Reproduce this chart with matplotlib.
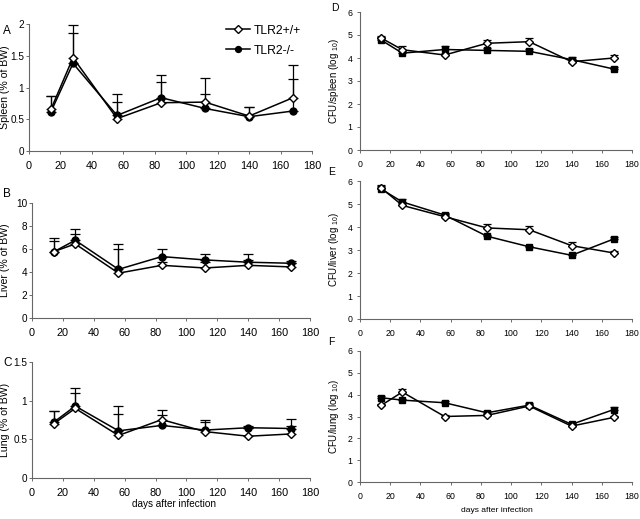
import matplotlib
matplotlib.use("Agg")
import matplotlib.pyplot as plt
import numpy as np

plt.rcParams['font.family'] = ['Liberation Sans', 'DejaVu Sans']
plt.rcParams['mathtext.fontset'] = 'custom'
plt.rcParams['mathtext.rm'] = 'Liberation Sans'
plt.rcParams['mathtext.it'] = 'Liberation Sans:italic'

days = [14, 28, 56, 84, 112, 140, 168]

# Panel A: spleen (% of BW)
spleen_wt = [0.66, 1.47, 0.51, 0.76, 0.77, 0.55, 0.84]
spleen_wt_err = [0.21, 0.52, 0.39, 0.44, 0.38, 0.14, 0.51]
spleen_ko = [0.62, 1.38, 0.56, 0.84, 0.67, 0.54, 0.63]
spleen_ko_err = [0.25, 0.48, 0.21, 0.25, 0.23, 0.15, 0.50]

# Panel B: liver (% of BW)
liver_wt = [5.77, 6.44, 3.90, 4.58, 4.35, 4.58, 4.44]
liver_wt_err = [0.93, 0.86, 2.07, 0.32, 0.5, 0.5, 0.3]
liver_ko = [5.75, 6.76, 4.23, 5.34, 5.05, 4.85, 4.76]
liver_ko_err = [1.24, 0.96, 2.17, 0.69, 0.55, 0.75, 0.24]

# Panel C: lung (% of BW)
lung_wt = [0.70, 0.90, 0.55, 0.755, 0.60, 0.54, 0.57]
lung_wt_err = [0.17, 0.20, 0.28, 0.065, 0.13, 0.11, 0.10]
lung_ko = [0.72, 0.93, 0.61, 0.68, 0.62, 0.65, 0.64]
lung_ko_err = [0.15, 0.23, 0.32, 0.20, 0.13, 0.02, 0.12]

# Panel D: CFU/spleen (log10)
cfu_spleen_wt = [4.87, 4.36, 4.13, 4.64, 4.71, 3.84, 4.00]
cfu_spleen_wt_err = [0.10, 0.16, 0.10, 0.14, 0.14, 0.10, 0.12]
cfu_spleen_ko = [4.78, 4.21, 4.37, 4.33, 4.29, 3.93, 3.52]
cfu_spleen_ko_err = [0.12, 0.10, 0.15, 0.10, 0.10, 0.12, 0.08]

# Panel E: CFU/liver (log10)
cfu_liver_wt = [5.70, 4.94, 4.45, 3.96, 3.88, 3.19, 2.87]
cfu_liver_wt_err = [0.12, 0.10, 0.10, 0.16, 0.17, 0.14, 0.08]
cfu_liver_ko = [5.65, 5.09, 4.52, 3.60, 3.14, 2.77, 3.48]
cfu_liver_ko_err = [0.15, 0.14, 0.10, 0.06, 0.05, 0.05, 0.10]

# Panel F: CFU/lung (log10)
cfu_lung_wt = [3.51, 4.12, 3.00, 3.05, 3.48, 2.56, 2.96]
cfu_lung_wt_err = [0.08, 0.12, 0.06, 0.08, 0.10, 0.08, 0.06]
cfu_lung_ko = [3.86, 3.75, 3.63, 3.17, 3.52, 2.64, 3.32]
cfu_lung_ko_err = [0.09, 0.05, 0.10, 0.10, 0.10, 0.08, 0.10]

series_labels = ["TLR2+/+", "TLR2-/-"]

fig = plt.figure(figsize=(6.4, 5.19), dpi=100)
fig.patch.set_facecolor("white")
W, H = 640.0, 519.0

def mkax(x0, x1, ytop, ybot):
    return fig.add_axes([x0 / W, 1 - ybot / H, (x1 - x0) / W, (ybot - ytop) / H])

panels = [
    (29, 312, 24, 151, spleen_wt, spleen_wt_err, spleen_ko, spleen_ko_err, (0, 2),
     [0, 0.5, 1, 1.5, 2], ["0", "0.5", "1", "1.5", "2"], "Spleen (% of BW)", "A", (3, 25)),
    (32, 310, 203, 318, liver_wt, liver_wt_err, liver_ko, liver_ko_err, (0, 10),
     [0, 2, 4, 6, 8, 10], ["0", "2", "4", "6", "8", "10"], "Liver (% of BW)", "B", (3, 188)),
    (32, 310, 362, 478, lung_wt, lung_wt_err, lung_ko, lung_ko_err, (0, 1.5),
     [0, 0.5, 1, 1.5], ["0", "0.5", "1", "1.5"], "Lung (% of BW)", "C", (3, 357)),
    (360, 632, 12, 150, cfu_spleen_wt, cfu_spleen_wt_err, cfu_spleen_ko, cfu_spleen_ko_err, (0, 6),
     list(range(7)), [str(i) for i in range(7)], r"CFU/spleen (log $_{\mathrm{10}}$)", "D", (331, 3)),
    (360, 632, 181, 319, cfu_liver_wt, cfu_liver_wt_err, cfu_liver_ko, cfu_liver_ko_err, (0, 6),
     list(range(7)), [str(i) for i in range(7)], r"CFU/liver (log $_{\mathrm{10}}$)", "E", (328, 167)),
    (360, 632, 351, 482, cfu_lung_wt, cfu_lung_wt_err, cfu_lung_ko, cfu_lung_ko_err, (0, 6),
     list(range(7)), [str(i) for i in range(7)], r"CFU/lung (log $_{\mathrm{10}}$)", "F", (328, 337)),
]

for i, (xl, xr, yt, yb, wt, wte, ko, koe, ylim, yt_, ytl, ylab, letter, lpos) in enumerate(panels):
    ax = mkax(xl, xr, yt, yb)
    right = i >= 3
    xfs = 6.3 if right else 7.8
    yfs = 6.3 if right else 7.2
    ms = 5 if not right else 4.3
    ko_marker = "o" if not right else "s"
    cap = 3.5 if not right else 3
    ax.errorbar(days, ko, yerr=[np.zeros(len(ko)), koe], fmt="none", ecolor="black",
                elinewidth=0.9, capsize=cap, capthick=0.9, zorder=2)
    ax.errorbar(days, wt, yerr=[np.zeros(len(wt)), wte], fmt="none", ecolor="black",
                elinewidth=0.9, capsize=cap, capthick=0.9, zorder=2)
    ax.plot(days, wt, color="black", lw=1.1, marker="D", ms=ms - 0.5, mfc="white",
            mec="black", mew=1.0, zorder=4, label=series_labels[0])
    ax.plot(days, ko, color="black", lw=1.1, marker=ko_marker, ms=ms, mfc="black",
            mec="black", zorder=3, label=series_labels[1])
    ax.set_xlim(0, 180)
    ax.set_ylim(*ylim)
    ax.set_xticks(range(0, 181, 20))
    ax.set_yticks(yt_)
    ax.set_yticklabels(ytl)
    ax.tick_params(axis="x", direction="out", length=2.5, width=0.6, color="#555555",
                   labelsize=xfs, pad=5)
    ax.tick_params(axis="y", direction="out", length=2.5, width=0.6, color="#555555",
                   labelsize=yfs, pad=1.0 if not right else 3)
    for s in ["top", "right"]:
        ax.spines[s].set_visible(False)
    for s in ["left", "bottom"]:
        ax.spines[s].set_color("#666666")
        ax.spines[s].set_linewidth(0.8)
    if right:
        ax.set_ylabel(ylab, fontsize=7)
        ax.yaxis.set_label_coords((341 - xl) / (xr - xl), 0.5)
    else:
        ax.set_ylabel(ylab, fontsize=7.6)
        ax.yaxis.set_label_coords((10.5 - xl) / (xr - xl), 0.5)
    fig.text(lpos[0] / W, 1 - lpos[1] / H, letter, fontsize=8.5 if not right else 7.5,
             ha="left", va="top")
    if i == 0:
        ax.legend(loc="upper right", bbox_to_anchor=(1.0, 1.08), frameon=False,
                  fontsize=8.7, handlelength=2.0, handletextpad=0.3, labelspacing=0.65,
                  markerscale=0.85)

fig.text(174 / W, 1 - 504 / H, "days after infection", fontsize=7.2, ha="center", va="center")
fig.text(497 / W, 1 - 511 / H, "days after infection", fontsize=6.1, ha="center", va="center")

fig.savefig("out.png", dpi=100, facecolor="white")
